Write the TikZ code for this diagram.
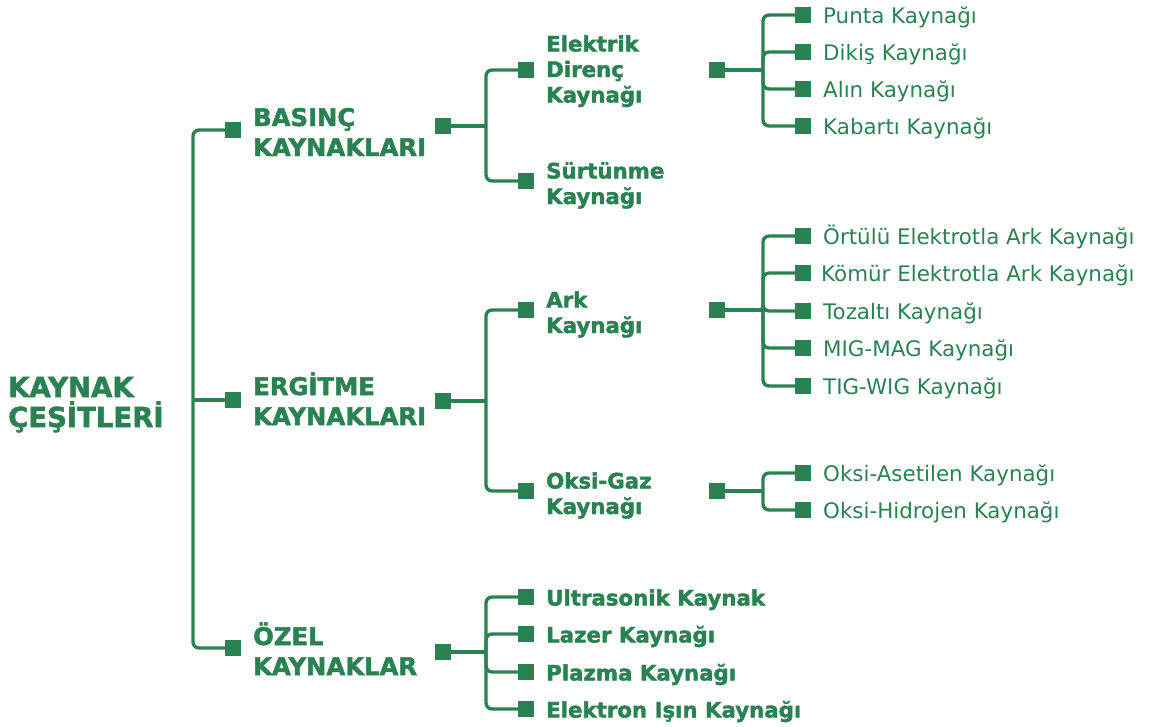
\documentclass[tikz,border=0pt]{standalone}
\usepackage{fontspec}
\setmainfont[BoldFeatures={FakeBold=2}]{DejaVu Sans}
\definecolor{kg}{RGB}{42,130,83}
\begin{document}
\begin{tikzpicture}[x=1pt,y=-1pt,
  sq/.style={fill=kg,inner sep=0pt,minimum size=16pt,draw=none,rectangle},
  ln/.style={draw=kg,line width=3.4pt},
  fork/.style={draw=kg,line width=3.4pt,rounded corners=6pt},
  rootlbl/.style={anchor=base west,inner sep=0pt,text=kg,align=left,font=\fontsize{27.5}{30}\selectfont\bfseries},
  onelbl/.style={anchor=base west,inner sep=0pt,text=kg,align=left,font=\fontsize{24.3}{30}\selectfont\bfseries},
  twolbl/.style={anchor=base west,inner sep=0pt,text=kg,align=left,font=\fontsize{21.3}{25.5}\selectfont\bfseries},
  leaflbl/.style={anchor=base west,inner sep=0pt,text=kg,font=\fontsize{21.4}{25}\selectfont}]
\useasboundingbox (0,0) rectangle (1157,726);

% root
\node[rootlbl] (root) at (8,427) {KAYNAK\\ÇEŞİTLERİ};

% level 1
\node[sq] (s1) at (233,130) {};
\node[sq] (s2) at (233,400) {};
\node[sq] (s3) at (233,648) {};
\node[onelbl] (t1) at (253,156) {BASINÇ\\KAYNAKLARI};
\node[onelbl] (t2) at (253,425) {ERGİTME\\KAYNAKLARI};
\node[onelbl] (t3) at (253,675) {ÖZEL\\KAYNAKLAR};
\node[sq] (r1) at (443,126) {};
\node[sq] (r2) at (443,401) {};
\node[sq] (r3) at (443,652) {};
\coordinate (k0) at (193,400);
\draw[fork] (s1.west) -| (k0) |- (s3.west);
\draw[ln] (s2.west) -- (s2.west -| k0);

% level 2
\node[sq] (a1) at (526,70) {};
\node[sq] (a2) at (526,181) {};
\node[sq] (a3) at (526,310) {};
\node[sq] (a4) at (526,491) {};
\node[sq] (a5) at (526,597) {};
\node[sq] (a6) at (526,634) {};
\node[sq] (a7) at (526,672) {};
\node[sq] (a8) at (526,709) {};
\node[twolbl] at (546,102.5) {Elektrik\\Direnç\\Kaynağı};
\node[twolbl] at (546,204) {Sürtünme\\Kaynağı};
\node[twolbl] at (546,333) {Ark\\Kaynağı};
\node[twolbl] at (546,514) {Oksi-Gaz\\Kaynağı};
\node[twolbl] at (546,605.5) {Ultrasonik Kaynak};
\node[twolbl] at (546,642.5) {Lazer Kaynağı};
\node[twolbl] at (546,680.5) {Plazma Kaynağı};
\node[twolbl] at (546,717.5) {Elektron Işın Kaynağı};

\coordinate (k1) at (486,126);
\coordinate (k2) at (486,401);
\coordinate (k3) at (486,652);
\draw[ln] (r1.east) -- (k1);
\draw[fork] (k1) |- (a1.west);
\draw[fork] (k1) |- (a2.west);
\draw[ln] (r2.east) -- (k2);
\draw[fork] (k2) |- (a3.west);
\draw[fork] (k2) |- (a4.west);
\draw[ln] (r3.east) -- (k3);
\draw[fork] (k3) |- (a5.west);
\draw[fork] (k3) |- (a6.west);
\draw[fork] (k3) |- (a7.west);
\draw[fork] (k3) |- (a8.west);

% level 3
\node[sq] (b1) at (717,70) {};
\node[sq] (b2) at (717,310) {};
\node[sq] (b3) at (717,491) {};
\coordinate (m1) at (763,70);
\coordinate (m2) at (763,310);
\coordinate (m3) at (763,491);
\draw[ln] (b1.east) -- (m1);
\draw[ln] (b2.east) -- (m2);
\draw[ln] (b3.east) -- (m3);

\node[sq] (c1) at (803,15) {};
\node[sq] (c2) at (803,52) {};
\node[sq] (c3) at (803,89) {};
\node[sq] (c4) at (803,126) {};
\node[sq] (c5) at (803,236) {};
\node[sq] (c6) at (803,273) {};
\node[sq] (c7) at (803,311) {};
\node[sq] (c8) at (803,348) {};
\node[sq] (c9) at (803,386) {};
\node[sq] (c10) at (803,473) {};
\node[sq] (c11) at (803,510) {};
\foreach \c in {c1,c2,c3,c4} \draw[fork] (m1) |- (\c.west);
\foreach \c in {c5,c6,c7,c8,c9} \draw[fork] (m2) |- (\c.west);
\foreach \c in {c10,c11} \draw[fork] (m3) |- (\c.west);

\node[leaflbl] at (823,23.5) {Punta Kaynağı};
\node[leaflbl] at (823,60.5) {Dikiş Kaynağı};
\node[leaflbl] at (823,97.5) {Alın Kaynağı};
\node[leaflbl] at (823,134.5) {Kabartı Kaynağı};
\node[leaflbl] at (823,244.5) {Örtülü Elektrotla Ark Kaynağı};
\node[leaflbl] at (821,281.5) {Kömür Elektrotla Ark Kaynağı};
\node[leaflbl] at (823,319.5) {Tozaltı Kaynağı};
\node[leaflbl] at (823,356.5) {MIG-MAG Kaynağı};
\node[leaflbl] at (823,394.5) {TIG-WIG Kaynağı};
\node[leaflbl] at (823,481.5) {Oksi-Asetilen Kaynağı};
\node[leaflbl] at (823,518.5) {Oksi-Hidrojen Kaynağı};
\end{tikzpicture}
\end{document}
